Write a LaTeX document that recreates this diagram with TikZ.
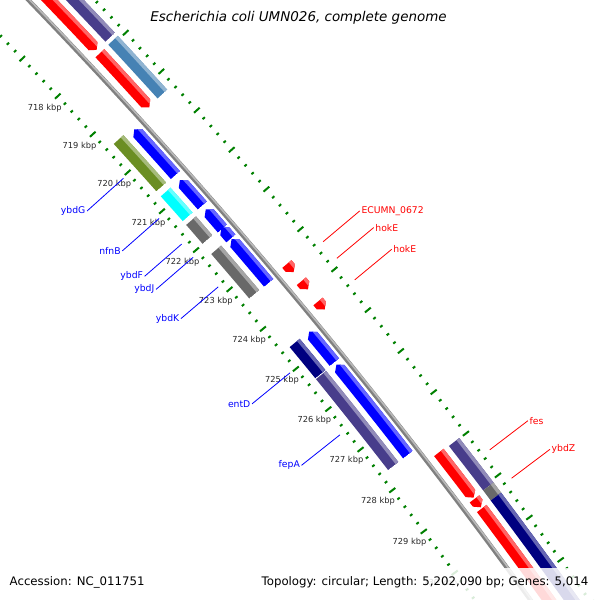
\documentclass[tikz,border=0pt]{standalone}
\usepackage{fontspec}
\setmainfont{DejaVu Sans}
\definecolor{slatepurple}{HTML}{483D8B}
\definecolor{steel}{HTML}{4682B4}
\definecolor{olivedrab}{HTML}{6B8E23}
\definecolor{dimgrey}{HTML}{696969}
\definecolor{navyblue}{HTML}{000080}
\definecolor{aqua}{HTML}{00FFFF}
\definecolor{tickgreen}{HTML}{008000}

\newcommand{\headlen}{0.1}
\newcommand{\kbpangle}[2]{\pgfmathsetmacro#1{43.035-0.5401*((#2)-718)}}
% fill of a clipped feature: base colour, lighter outer edge
\newcommand{\gshade}[3]{%
  \fill[#3] (\ga:#1-2) arc[start angle=\ga,end angle=\gb,radius=#1-2]
    -- (\gb:#2+2) arc[start angle=\gb,end angle=\ga,radius=#2+2] -- cycle;
  \fill[#3!60!white] (\ga:#2-3.5) arc[start angle=\ga,end angle=\gb,radius=#2-3.5]
    -- (\gb:#2+2) arc[start angle=\gb,end angle=\ga,radius=#2+2] -- cycle;}

% feature pointing clockwise: from, to, inner r, outer r, colour
\newcommand{\cwgene}[5]{%
  \kbpangle\ga{#1}\kbpangle\gb{#2}\kbpangle\gh{(#2)-\headlen}%
  \pgfmathsetmacro\gm{((#3)+(#4))/2}%
  \begin{scope}
    \clip (\ga:#4) arc[start angle=\ga,end angle=\gh,radius=#4]
      -- (\gb:\gm) -- (\gh:#3) arc[start angle=\gh,end angle=\ga,radius=#3] -- cycle;
    \gshade{#3}{#4}{#5}
  \end{scope}}
% feature pointing counter-clockwise
\newcommand{\ccwgene}[5]{%
  \kbpangle\ga{#1}\kbpangle\gb{#2}\kbpangle\gh{(#1)+\headlen}%
  \pgfmathsetmacro\gm{((#3)+(#4))/2}%
  \begin{scope}
    \clip (\ga:\gm) -- (\gh:#4) arc[start angle=\gh,end angle=\gb,radius=#4]
      -- (\gb:#3) arc[start angle=\gb,end angle=\gh,radius=#3] -- cycle;
    \gshade{#3}{#4}{#5}
  \end{scope}}
% feature without direction
\newcommand{\genebox}[5]{%
  \kbpangle\ga{#1}\kbpangle\gb{#2}%
  \begin{scope}
    \clip (\ga:#4) arc[start angle=\ga,end angle=\gb,radius=#4]
      -- (\gb:#3) arc[start angle=\gb,end angle=\ga,radius=#3] -- cycle;
    \gshade{#3}{#4}{#5}
  \end{scope}}
% gene names
\newcommand{\innername}[3]{%
  \kbpangle\la{#2}%
  \coordinate (#1-tip) at (\la:5479);
  \node[genelabel,text=blue,anchor=east] (#1) at (\la:5430) {#3};
  \draw[labelline,blue] (#1.east) -- (#1-tip);}
\newcommand{\outername}[3]{%
  \kbpangle\la{#2}%
  \coordinate (#1-tip) at (\la:5588);
  \node[genelabel,text=red,anchor=west] (#1) at (\la:5636) {#3};
  \draw[labelline,red] (#1.west) -- (#1-tip);}

\begin{document}
\begin{tikzpicture}[x=1bp,y=1bp,
  backbone/.style={line width=4.4bp,draw=gray},
  kbptick/.style={line width=2bp,tickgreen},
  kbplabel/.style={font=\fontsize{8.3}{9}\selectfont,text=black!85,inner sep=0pt},
  genelabel/.style={font=\fontsize{9.3}{11}\selectfont,inner sep=1.5bp},
  labelline/.style={line width=0.8bp},
  legendtext/.style={font=\fontsize{11.8}{14}\selectfont,inner sep=0pt}]
\useasboundingbox (0,0) rectangle (600,-600);
\clip (0,0) rectangle (600,-600);

\begin{scope}[shift={(-3952,-3840)}]
\foreach \t in {0,...,85}{
  \kbpangle\ta{716+0.2*\t}
  \pgfmathtruncatemacro\major{mod(\t,5)==0 ? 1 : 0}
  \ifnum\major=1 \def\tl{3.8}\else\def\tl{1.5}\fi
  \draw[kbptick] (\ta:5486-\tl) -- (\ta:5486+\tl) (\ta:5579-\tl) -- (\ta:5579+\tl);
}

\kbpangle\bs{716}\kbpangle\be{733}
\draw[backbone] (\bs:5531) arc[start angle=\bs,end angle=\be,radius=5531];
\draw[line width=1.6bp,gray!55] (\bs:5532) arc[start angle=\bs,end angle=\be,radius=5532];

\cwgene{716}{717.86}{5540}{5552}{red}
\cwgene{717.95}{719.35}{5540}{5552}{red}
\cwgene{723.34}{723.54}{5540}{5552}{red}
\cwgene{723.77}{723.97}{5540}{5552}{red}
\cwgene{724.27}{724.47}{5540}{5552}{red}
\cwgene{727.97}{729.06}{5540}{5552}{red}
\cwgene{729.09}{729.29}{5540}{5552}{red}
\cwgene{729.32}{733}{5540}{5552}{red}

\genebox{716}{717.86}{5558}{5571}{slatepurple}
\genebox{717.94}{719.33}{5558}{5571}{steel}
\genebox{727.99}{729.06}{5558}{5571}{slatepurple}
\genebox{729.06}{729.3}{5558}{5571}{dimgrey}
\genebox{729.3}{733}{5558}{5571}{navyblue}

\ccwgene{719.47}{720.65}{5514}{5526}{blue}
\ccwgene{720.78}{721.43}{5514}{5526}{blue}
\ccwgene{721.53}{722.02}{5514}{5526}{blue}
\ccwgene{721.99}{722.27}{5514}{5526}{blue}
\ccwgene{722.29}{723.39}{5514}{5526}{blue}
\ccwgene{724.61}{725.37}{5514}{5526}{blue}
\ccwgene{725.43}{727.64}{5514}{5526}{blue}

\genebox{719.41}{720.64}{5495}{5508}{olivedrab}
\genebox{720.77}{721.41}{5495}{5508}{aqua}
\genebox{721.51}{721.99}{5495}{5508}{dimgrey}
\genebox{722.25}{723.38}{5495}{5508}{dimgrey}
\genebox{724.60}{725.38}{5495}{5508}{navyblue}
\genebox{725.40}{727.64}{5495}{5508}{slatepurple}

\foreach \k in {718,...,730}{
  \kbpangle\ka{\k}
  \node[kbplabel] (kbp\k) at (\ka:5468) {\k\ kbp};
}

\innername{ybdG}{720.03}{ybdG}
\innername{nfnB}{721.07}{nfnB}
\innername{ybdF}{721.73}{ybdF}
\innername{ybdJ}{722.07}{ybdJ}
\innername{ybdK}{722.82}{ybdK}
\innername{entD}{724.99}{entD}
\innername{fepA}{726.53}{fepA}
\outername{ecumn}{723.46}{ECUMN\_0672}
\outername{hokEa}{723.87}{hokE}
\outername{hokEb}{724.40}{hokE}
\outername{fes}{728.52}{fes}
\outername{ybdZ}{729.20}{ybdZ}
\end{scope}

\fill[white,opacity=0.85] (255,-568) rectangle (595,-600);
\node[legendtext,anchor=west] (accession) at (9.5,-582) {Accession: NC\_011751};
\node[legendtext,anchor=east] (topology) at (588.5,-582) {Topology: circular; Length: 5,202,090 bp; Genes: 5,014};
\node[font=\fontsize{13.5}{16}\selectfont\itshape] (title) at (298.5,-18) {Escherichia coli UMN026, complete genome};
\end{tikzpicture}
\end{document}
